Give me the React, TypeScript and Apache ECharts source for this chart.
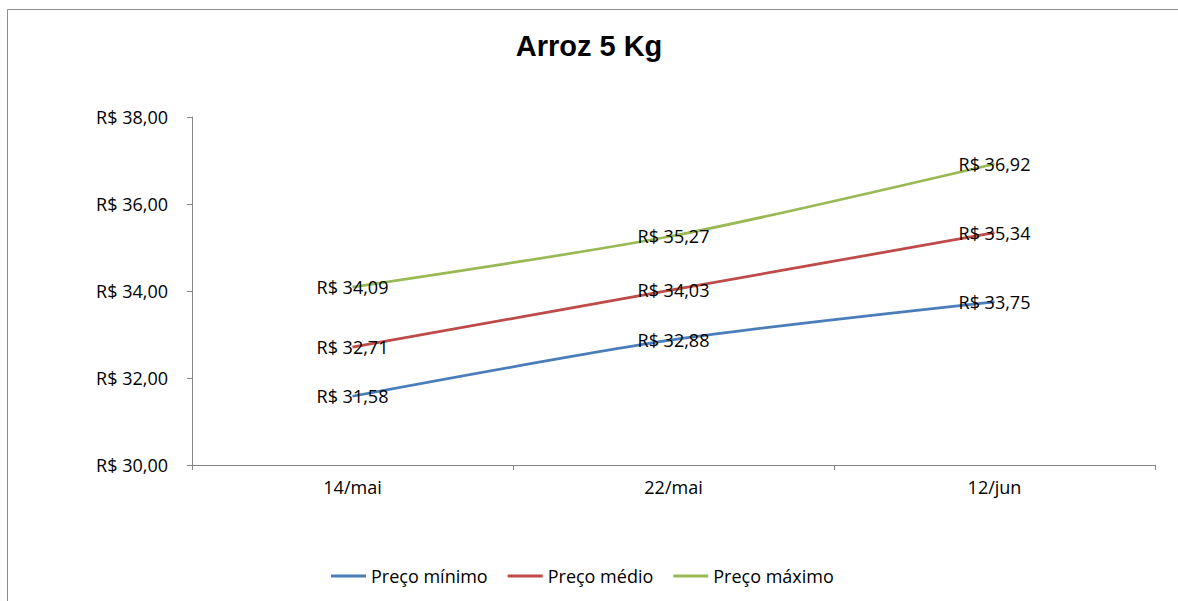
import React, { useEffect, useRef } from "react";
import * as echarts from "echarts";

const categories = ["14/mai", "22/mai", "12/jun"];
const precoMinimo = [31.58, 32.88, 33.75];
const precoMedio = [32.71, 34.03, 35.34];
const precoMaximo = [34.09, 35.27, 36.92];
const seriesNames = ["Preço mínimo", "Preço médio", "Preço máximo"];
const colors = ["#4A7EBB", "#BE4B48", "#98B954"];

const FONT = "'Open Sans', Lato, sans-serif";
const FS = 18;
const fmt = (v: number) => "R$ " + v.toFixed(2).replace(".", ",");

export default function App() {
  const ref = useRef<HTMLDivElement>(null);
  useEffect(() => {
    document.body.style.margin = "0";
    const chart = echarts.init(ref.current!, null, { renderer: "svg" });
    const mk = (name: string, data: number[], color: string) => ({
      name,
      type: "line",
      data,
      smooth: 0.25,
      symbol: "circle",
      symbolSize: 0.1,
      showSymbol: true,
      itemStyle: { color },
      lineStyle: { color, width: 2.75 },
      label: {
        show: true,
        position: "inside",
        formatter: (p: any) => fmt(p.value),
        color: "#000",
        fontFamily: FONT,
        fontSize: FS,
      },
    });
    chart.setOption({
      animation: false,
      backgroundColor: "#fff",
      title: {
        text: "Arroz 5 Kg",
        left: "center",
        top: 26,
        textStyle: { fontFamily: "'Liberation Sans', Arial, sans-serif", fontSize: 29, fontWeight: "bold", color: "#000" },
      },
      graphic: [
        {
          type: "rect",
          shape: { x: 7.5, y: 9.5, width: 1300, height: 800 },
          style: { fill: "none", stroke: "#8C8C8C", lineWidth: 1 },
          silent: true,
        },
      ],
      legend: {
        bottom: 11,
        left: 326,
        icon: "rect",
        itemWidth: 35,
        itemHeight: 3,
        itemGap: 20,
        textStyle: { fontFamily: FONT, fontSize: FS, color: "#000" },
        data: seriesNames,
      },
      grid: { left: 192, right: 23, top: 117, bottom: 136, containLabel: false },
      xAxis: {
        type: "category",
        data: categories,
        boundaryGap: true,
        axisLine: { lineStyle: { color: "#868686", width: 1 } },
        axisTick: { show: true, length: 5, lineStyle: { color: "#868686" } },
        axisLabel: { color: "#000", fontFamily: FONT, fontSize: FS, margin: 13 },
      },
      yAxis: {
        type: "value",
        min: 30,
        max: 38,
        interval: 2,
        axisLine: { show: true, lineStyle: { color: "#868686", width: 1 } },
        axisTick: { show: true, length: 5, lineStyle: { color: "#868686" } },
        splitLine: { show: false },
        axisLabel: { color: "#000", fontFamily: FONT, fontSize: FS, margin: 24, formatter: (v: number) => fmt(v) },
      },
      series: [
        mk(seriesNames[0], precoMinimo, colors[0]),
        mk(seriesNames[1], precoMedio, colors[1]),
        mk(seriesNames[2], precoMaximo, colors[2]),
      ],
      color: colors,
    });
    return () => chart.dispose();
  }, []);
  return <div ref={ref} style={{ width: 1178, height: 601 }} />;
}
